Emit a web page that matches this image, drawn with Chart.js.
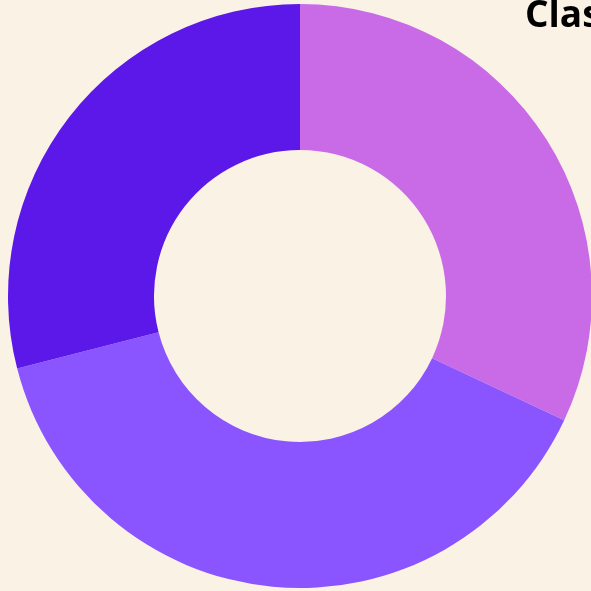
<!DOCTYPE html>
<html>
<head>
<meta charset="utf-8">
<script src="https://cdn.jsdelivr.net/npm/chart.js@4"></script>
<style>
  html, body { margin: 0; padding: 0; background: #FAF2E5; }
  #wrap { position: relative; width: 591px; height: 591px; overflow: hidden; background: #FAF2E5; }
  #chart { position: absolute; left: 0; top: 0; }
  #title {
    position: absolute; left: 525px; top: -6px; white-space: nowrap;
    font-family: "Open Sans", sans-serif; font-weight: bold; font-size: 37px; line-height: 1;
    color: #000;
  }
</style>
</head>
<body>
<div id="wrap">
  <canvas id="chart" width="600" height="591"></canvas>
  <div id="title">Class Distribution</div>
</div>
<script>
// Slice data
const labels = ["Class A", "Class B", "Class C"];
const values = [32, 39, 29];
const colors = ["#C96BE6", "#8A55FE", "#5C18E9"];

new Chart(document.getElementById("chart"), {
  type: "doughnut",
  data: {
    labels: labels,
    datasets: [
      {
        data: values,
        backgroundColor: colors,
        hoverBackgroundColor: colors,
        borderWidth: 0,
      },
    ],
  },
  options: {
    responsive: false,
    animation: false,
    cutout: "50%",
    layout: { padding: { left: 8, right: 8, top: 4, bottom: 3 } },
    plugins: {
      legend: { display: false },
      tooltip: { enabled: false },
    },
  },
});
</script>
</body>
</html>
